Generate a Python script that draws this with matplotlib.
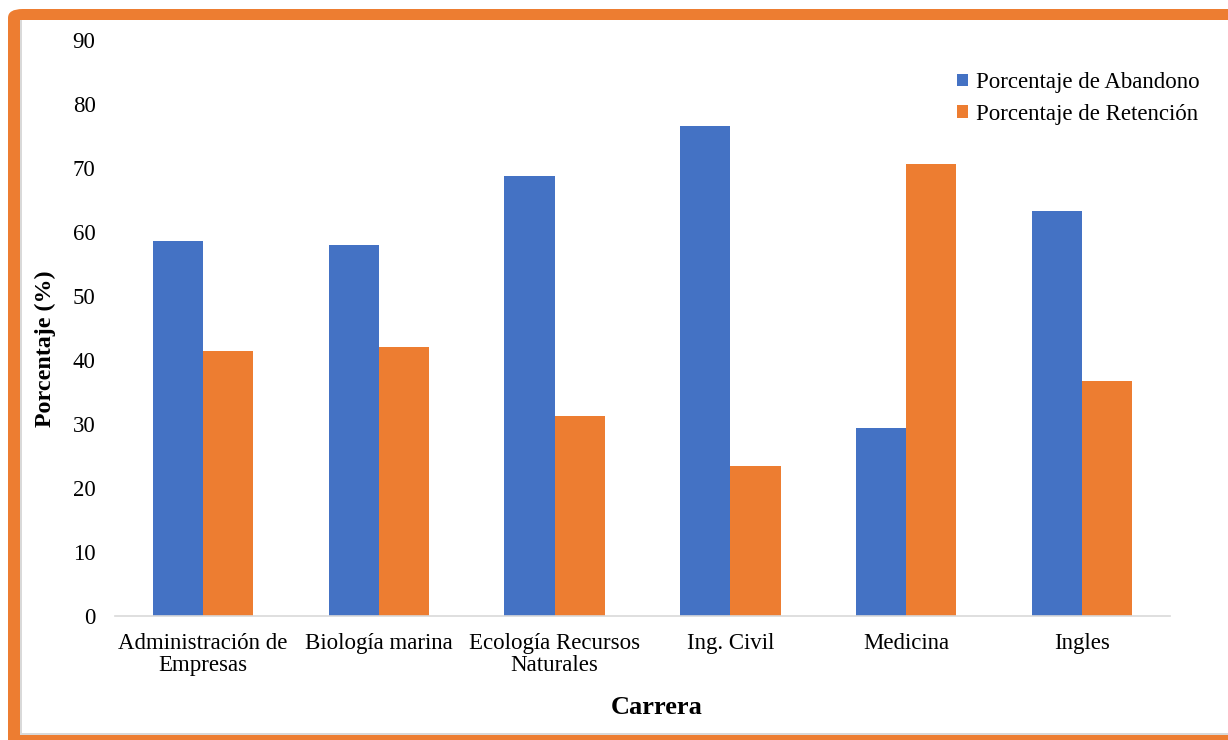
import matplotlib.pyplot as plt
import numpy as np
from matplotlib.patches import FancyBboxPatch, Rectangle

plt.rcParams['font.family'] = ['Liberation Serif', 'DejaVu Serif']

carreras = ['Administración de\nEmpresas', 'Biología marina', 'Ecología Recursos\nNaturales',
            'Ing. Civil', 'Medicina', 'Ingles']
abandono = [58.6, 57.9, 68.8, 76.5, 29.3, 63.3]
retencion = [41.4, 42.1, 31.2, 23.5, 70.7, 36.7]

azul = '#4472C4'
naranja = '#ED7D31'

W, H = 1228, 740
fig = plt.figure(figsize=(W / 100, H / 100), dpi=100)

# marco naranja con sombra gris por dentro
fig.patches.append(FancyBboxPatch((8 / W, -0.05), 1.2, 1 - 9 / H + 0.05,
                                  boxstyle='round,pad=0,rounding_size=0.012',
                                  transform=fig.transFigure, facecolor=naranja,
                                  edgecolor='none', zorder=0))
fig.patches.append(Rectangle((20 / W, 5 / H), 1.2, 1 - 25 / H,
                             transform=fig.transFigure, facecolor='#d9d9d9',
                             edgecolor='none', zorder=0.5))
fig.patches.append(Rectangle((22 / W, 7 / H), 1.2, 1 - 27 / H,
                             transform=fig.transFigure, facecolor='white',
                             edgecolor='none', zorder=0.6))

ax = fig.add_axes([115 / W, 1 - 616 / H, (1170 - 115) / W, (616 - 40) / H])
ax.set_zorder(2)
ax.set_facecolor('none')

x = np.arange(len(carreras))
ancho = 0.285
ax.bar(x - ancho / 2, abandono, ancho, color=azul, label='Porcentaje de Abandono')
ax.bar(x + ancho / 2, retencion, ancho, color=naranja, label='Porcentaje de Retención')

ax.set_xlim(-0.5, len(carreras) - 0.5)
ax.set_ylim(0, 90)
ax.set_yticks(np.arange(0, 91, 10))
ax.set_xticks(x)
ax.set_xticklabels(carreras, fontsize=16.5, linespacing=1.1)
ax.tick_params(axis='y', labelsize=16.5, length=0, pad=14)
ax.tick_params(axis='x', length=0, pad=12)
for s in ['top', 'right', 'left']:
    ax.spines[s].set_visible(False)
ax.spines['bottom'].set_color('#d9d9d9')
ax.spines['bottom'].set_linewidth(1.2)

fig.text(45 / W, 1 - 349 / H, 'Porcentaje (%)', fontsize=17.3, fontweight='bold',
         rotation=90, ha='center', va='center', zorder=3)
fig.text(657 / W, 1 - 707 / H, 'Carrera', fontsize=19, fontweight='bold',
         ha='center', va='center', zorder=3)

ax.legend(loc='upper left', bbox_to_anchor=((946 - 115) / 1055, (616 - 61) / 576),
          frameon=False, borderpad=0, fontsize=16.5, handlelength=0.45,
          handleheight=0.45, handletextpad=0.35, labelspacing=0.45)

fig.savefig('out.png', dpi=100)
